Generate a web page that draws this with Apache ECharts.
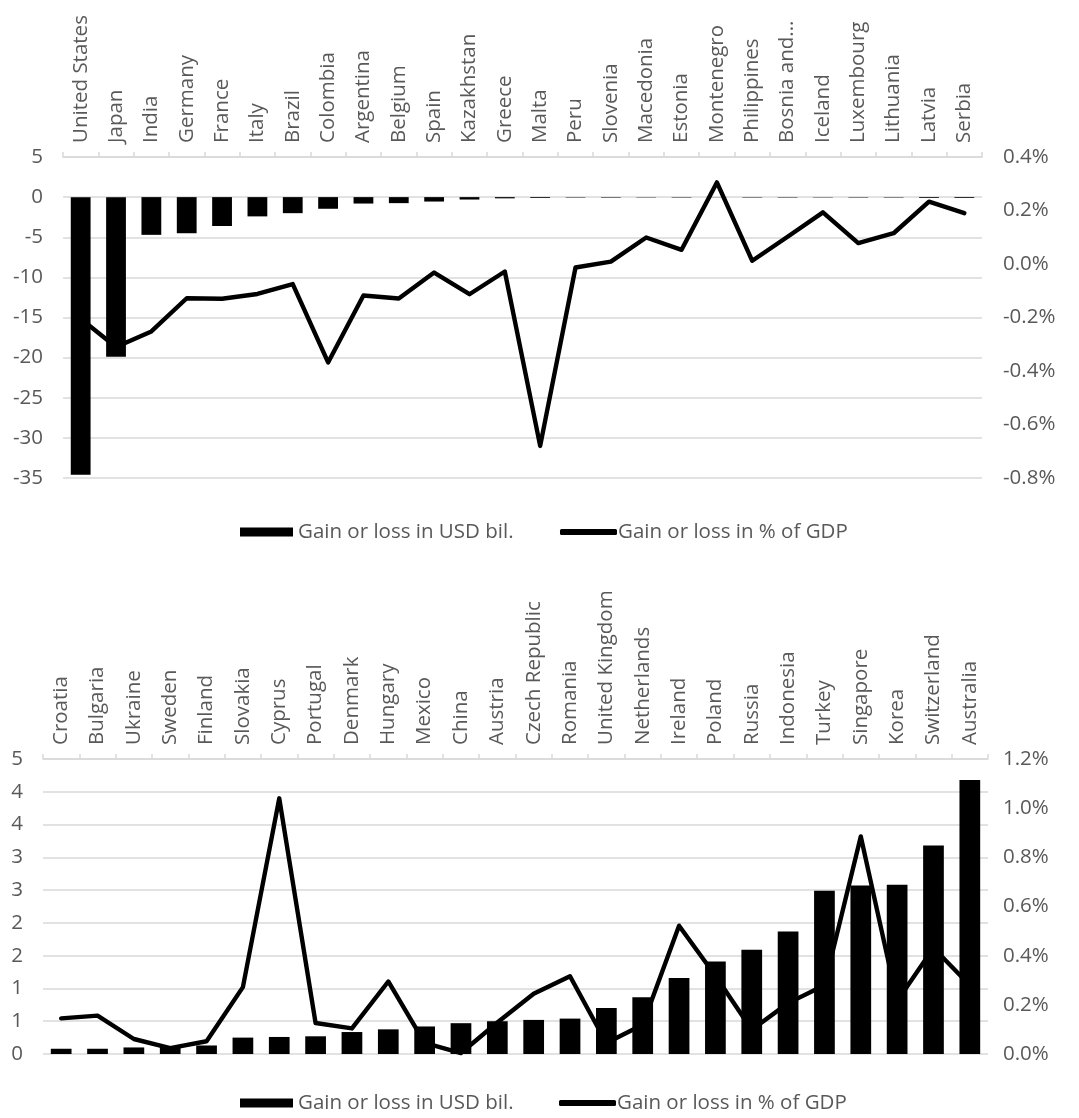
<!DOCTYPE html>
<html>
<head>
<meta charset="utf-8">
<script src="https://cdn.jsdelivr.net/npm/echarts@6/dist/echarts.min.js"></script>
<style>
  html, body { margin: 0; padding: 0; background: #fff; }
  #chart { width: 1079px; height: 1118px; }
</style>
</head>
<body>
<div id="chart"></div>
<script>
// Countries that lose from the change (upper panel)
const lossCountries = ['United States', 'Japan', 'India', 'Germany', 'France', 'Italy', 'Brazil',
  'Colombia', 'Argentina', 'Belgium', 'Spain', 'Kazakhstan', 'Greece', 'Malta', 'Peru', 'Slovenia',
  'Macedonia', 'Estonia', 'Montenegro', 'Philippines', 'Bosnia and...', 'Iceland', 'Luxembourg',
  'Lithuania', 'Latvia', 'Serbia'];
const lossUsdBil = [-34.6, -19.9, -4.7, -4.5, -3.6, -2.4, -2.0, -1.45, -0.8, -0.75, -0.55, -0.3,
  -0.15, -0.1, -0.05, -0.06, -0.04, -0.05, -0.02, -0.05, -0.05, -0.04, -0.05, -0.05, -0.1, -0.1];
const lossPctGdp = [-0.205, -0.31, -0.252, -0.128, -0.130, -0.112, -0.075, -0.368, -0.118, -0.129,
  -0.032, -0.113, -0.028, -0.68, -0.013, 0.009, 0.099, 0.053, 0.305, 0.012, 0.102, 0.193, 0.078,
  0.115, 0.233, 0.190];

// Countries that gain (lower panel)
const gainCountries = ['Croatia', 'Bulgaria', 'Ukraine', 'Sweden', 'Finland', 'Slovakia', 'Cyprus',
  'Portugal', 'Denmark', 'Hungary', 'Mexico', 'China', 'Austria', 'Czech Republic', 'Romania',
  'United Kingdom', 'Netherlands', 'Ireland', 'Poland', 'Russia', 'Indonesia', 'Turkey', 'Singapore',
  'Korea', 'Switzerland', 'Australia'];
const gainUsdBil = [0.08, 0.08, 0.10, 0.10, 0.13, 0.25, 0.26, 0.27, 0.335, 0.376, 0.42, 0.47, 0.50,
  0.52, 0.54, 0.70, 0.865, 1.16, 1.41, 1.59, 1.87, 2.49, 2.57, 2.58, 3.18, 4.18];
const gainPctGdp = [0.145, 0.156, 0.061, 0.024, 0.052, 0.272, 1.04, 0.126, 0.104, 0.295, 0.045, 0.004,
  0.128, 0.245, 0.316, 0.045, 0.119, 0.522, 0.318, 0.099, 0.207, 0.28, 0.885, 0.216, 0.431, 0.28];

const usdName = 'Gain or loss in USD bil.';
const pctName = 'Gain or loss in % of GDP';

const TEXT = '#595959';
const GRID = '#d9d9d9';
const FONT = '"Open Sans", sans-serif';
const FS = 20.5;

function pctLabel(v) {
  if (Math.abs(v) < 1e-9) v = 0;
  return v.toFixed(1) + '%';
}

function catAxis(gridIndex, data) {
  return {
    type: 'category', gridIndex: gridIndex, position: 'top', data: data,
    axisLine: { show: true, onZero: false, lineStyle: { color: GRID, width: 1.5 } },
    axisTick: { show: true, length: 5, lineStyle: { color: GRID, width: 1.5 } },
    axisLabel: { rotate: -90, margin: 14, color: TEXT, fontFamily: FONT, fontSize: FS, interval: 0 },
    splitLine: { show: false }
  };
}

function valAxis(gridIndex, pos, min, max, interval, fmt, grid, margin) {
  return {
    type: 'value', gridIndex: gridIndex, position: pos, min: min, max: max, interval: interval,
    axisLine: { show: false }, axisTick: { show: false },
    axisLabel: { color: TEXT, fontFamily: FONT, fontSize: FS, margin: margin, formatter: fmt },
    splitLine: { show: grid, lineStyle: { color: GRID, width: 1.5 } }
  };
}

function legendItem(name, left, top, icon, w, h, gap) {
  return {
    data: [{ name: name, icon: icon }], left: left, top: top,
    itemWidth: w, itemHeight: h, itemGap: 0, padding: 0,
    textStyle: { color: TEXT, fontFamily: FONT, fontSize: FS, lineHeight: 24, padding: [0, 0, 0, gap] },
    selectedMode: false
  };
}

const lineStyle = { color: '#000', width: 4.4, cap: 'round', join: 'round' };

const option = {
  animation: false,
  backgroundColor: '#fff',
  grid: [
    { left: 63, right: 97, top: 157, height: 321 },
    { left: 43, right: 91, top: 759, height: 295 }
  ],
  xAxis: [catAxis(0, lossCountries), catAxis(1, gainCountries)],
  yAxis: [
    valAxis(0, 'left', -35, 5, 5, v => String(v), true, 20),
    valAxis(0, 'right', -0.8, 0.4, 0.2, pctLabel, false, 21),
    valAxis(1, 'left', 0, 4.5, 0.5, v => String(Math.round(v)), true, 20),
    valAxis(1, 'right', 0, 1.2, 0.2, pctLabel, false, 15)
  ],
  legend: [
    legendItem(usdName, 240, 520, 'rect', 53, 9, 0),
    legendItem(pctName, 560, 520, 'roundRect', 57, 6, -4),
    legendItem(usdName, 240, 1091, 'rect', 53, 9, 0),
    legendItem(pctName, 559, 1091, 'roundRect', 57, 6, -4)
  ],
  series: [
    { name: usdName, type: 'bar', xAxisIndex: 0, yAxisIndex: 0, data: lossUsdBil,
      barWidth: '56%', itemStyle: { color: '#000' } },
    { name: pctName, type: 'line', xAxisIndex: 0, yAxisIndex: 1, data: lossPctGdp,
      symbol: 'none', lineStyle: lineStyle, itemStyle: { color: '#000' }, z: 5 },
    { name: usdName, type: 'bar', xAxisIndex: 1, yAxisIndex: 2, data: gainUsdBil,
      barWidth: '57%', itemStyle: { color: '#000' } },
    { name: pctName, type: 'line', xAxisIndex: 1, yAxisIndex: 3, data: gainPctGdp,
      symbol: 'none', lineStyle: lineStyle, itemStyle: { color: '#000' }, z: 5 }
  ]
};

const chart = echarts.init(document.getElementById('chart'), null, { renderer: 'canvas' });
chart.setOption(option);
</script>
</body>
</html>
